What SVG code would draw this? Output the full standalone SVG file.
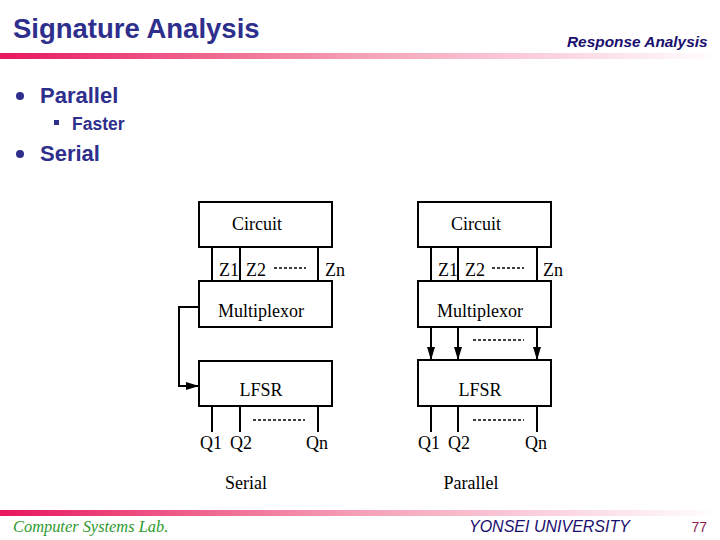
<svg xmlns="http://www.w3.org/2000/svg" width="720" height="540" viewBox="0 0 720 540">
<defs>
<linearGradient id="bar" x1="0" y1="0" x2="1" y2="0">
<stop offset="0" stop-color="#e8185c"/>
<stop offset="0.5" stop-color="#f5a0b8"/>
<stop offset="1" stop-color="#ffffff"/>
</linearGradient>
<marker id="ah" viewBox="0 0 13 10" refX="13" refY="5" markerWidth="13" markerHeight="10" markerUnits="userSpaceOnUse" orient="auto">
<path d="M0,1 L13,5 L0,9 Z" fill="#000"/>
</marker>
<style>
.box{fill:#fff;stroke:#000;stroke-width:2}
.ln{fill:none;stroke:#000;stroke-width:2}
.dash{fill:none;stroke:#000;stroke-width:1.3;stroke-dasharray:3,2}
.tm{font-family:"Liberation Serif",serif;font-size:18px;fill:#000}
.lbl{font-family:"Liberation Serif",serif;font-size:18px;fill:#000}
.blue{font-family:"Liberation Sans",Arial,sans-serif;fill:#2e2e8c}
</style>
</defs>
<rect width="720" height="540" fill="#fff"/>
<g id="header">
<text x="13" y="38" class="blue" font-size="27.5" font-weight="bold">Signature Analysis</text>
<text x="567" y="47" font-family="Liberation Sans,Arial,sans-serif" font-size="15.4" font-weight="bold" font-style="italic" fill="#1a0f6e">Response Analysis</text>
<rect x="0" y="53" width="720" height="6" fill="url(#bar)"/>
</g>
<g id="bullets">
<circle cx="20" cy="96" r="4" fill="#2e2e8c"/>
<text x="40" y="103" class="blue" font-size="22" font-weight="bold">Parallel</text>
<rect x="54" y="120" width="5" height="5" fill="#2e2e8c"/>
<text x="72" y="130" class="blue" font-size="17.5" font-weight="bold">Faster</text>
<circle cx="20" cy="154" r="4" fill="#2e2e8c"/>
<text x="40" y="161" class="blue" font-size="22" font-weight="bold">Serial</text>
</g>
<g id="serial-circuit">
<rect class="box" x="199" y="202" width="133" height="45"/>
<text class="tm" x="257" y="230" text-anchor="middle">Circuit</text>
</g>
<g id="serial-mux">
<rect class="box" x="199" y="281" width="133" height="46"/>
<text class="tm" x="261" y="317" text-anchor="middle">Multiplexor</text>
</g>
<g id="serial-lfsr">
<rect class="box" x="199" y="361" width="133" height="45"/>
<text class="tm" x="261" y="396" text-anchor="middle">LFSR</text>
</g>
<g id="parallel-circuit">
<rect class="box" x="418" y="202" width="133" height="45"/>
<text class="tm" x="476" y="230" text-anchor="middle">Circuit</text>
</g>
<g id="parallel-mux">
<rect class="box" x="418" y="281" width="133" height="46"/>
<text class="tm" x="480" y="317" text-anchor="middle">Multiplexor</text>
</g>
<g id="parallel-lfsr">
<rect class="box" x="418" y="360" width="133" height="46"/>
<text class="tm" x="480" y="396" text-anchor="middle">LFSR</text>
</g>
<g id="connectors">
<path class="ln" d="M212,247V281M240,247V281M318,247V281"/>
<path class="ln" d="M199,307H179V386H199" marker-end="url(#ah)"/>
<path class="ln" d="M212,406V432M240,406V432M318,406V432"/>
<path class="dash" d="M274,268H306M253,420H305"/>
<path class="ln" d="M431,247V281M458,247V281M537,247V281"/>
<path class="ln" d="M431,327V360" marker-end="url(#ah)"/>
<path class="ln" d="M458,327V360" marker-end="url(#ah)"/>
<path class="ln" d="M537,327V360" marker-end="url(#ah)"/>
<path class="ln" d="M431,406V432M458,406V432M537,406V432"/>
<path class="dash" d="M492,268H524M473,340H524M473,420H524"/>
</g>
<g id="labels">
<text class="lbl" x="219" y="276">Z1</text>
<text class="lbl" x="246" y="276">Z2</text>
<text class="lbl" x="325" y="276">Zn</text>
<text class="lbl" x="438" y="276">Z1</text>
<text class="lbl" x="465" y="276">Z2</text>
<text class="lbl" x="543" y="276">Zn</text>
<text class="lbl" x="200" y="449">Q1</text>
<text class="lbl" x="230" y="449">Q2</text>
<text class="lbl" x="306" y="449">Qn</text>
<text class="lbl" x="418" y="449">Q1</text>
<text class="lbl" x="448" y="449">Q2</text>
<text class="lbl" x="525" y="449">Qn</text>
<text class="lbl" x="246" y="489" text-anchor="middle">Serial</text>
<text class="lbl" x="471" y="489" text-anchor="middle">Parallel</text>
</g>
<g id="footer">
<rect x="0" y="510" width="720" height="6" fill="url(#bar)"/>
<text x="13" y="532" font-family="Liberation Serif,serif" font-size="16.4" font-style="italic" fill="#2e9a2e">Computer Systems Lab.</text>
<text x="469" y="532" font-family="Liberation Sans,Arial,sans-serif" font-size="16" font-style="italic" fill="#1a0f6e">YONSEI UNIVERSITY</text>
<text x="707" y="532" text-anchor="end" font-family="Liberation Sans,Arial,sans-serif" font-size="14" fill="#8b2252">77</text>
</g>
</svg>
